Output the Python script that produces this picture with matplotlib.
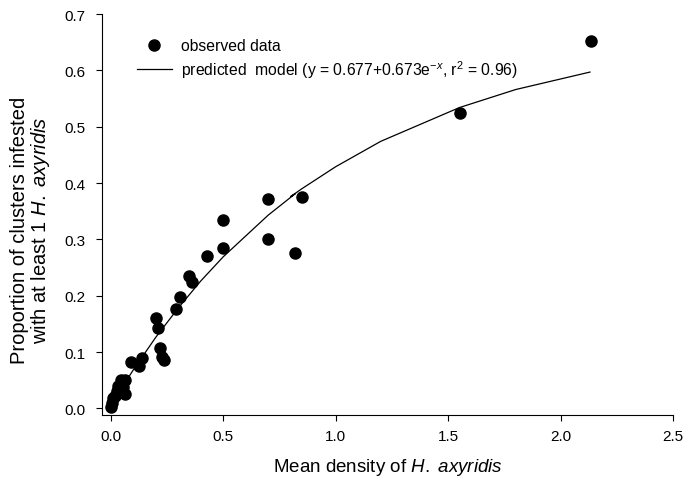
import numpy as np
import matplotlib
matplotlib.use('Agg')
from matplotlib import pyplot as plt

plt.rcParams['font.family'] = ['Liberation Sans', 'DejaVu Sans']
plt.rcParams['mathtext.fontset'] = 'custom'
plt.rcParams['mathtext.rm'] = 'Liberation Sans'
plt.rcParams['mathtext.it'] = 'Liberation Sans:italic'

obs_x = [0.000, 0.004, 0.012, 0.020, 0.027, 0.034, 0.044, 0.064, 0.056, 0.065,
         0.089, 0.127, 0.138, 0.200, 0.209, 0.219, 0.227, 0.238, 0.289, 0.308,
         0.348, 0.360, 0.429, 0.498, 0.498, 0.698, 0.698, 0.819, 0.849, 1.552,
         2.133]
obs_y = [0.003, 0.009, 0.018, 0.022, 0.030, 0.040, 0.050, 0.050, 0.038, 0.025,
         0.083, 0.076, 0.090, 0.161, 0.142, 0.108, 0.092, 0.085, 0.177, 0.198,
         0.235, 0.224, 0.270, 0.334, 0.285, 0.372, 0.301, 0.276, 0.376, 0.525,
         0.652]

# predicted model line vertices
mod_x = [0.0, 0.05, 0.1, 0.2, 0.3, 0.4, 0.5, 0.7, 0.82, 0.80, 0.85, 1.0, 1.2,
         1.55, 1.8, 2.13]
mod_y = [0.004, 0.037, 0.068, 0.126, 0.178, 0.226, 0.269, 0.343, 0.381, 0.376,
         0.390, 0.429, 0.474, 0.534, 0.566, 0.597]

xticks = [0.0, 0.5, 1.0, 1.5, 2.0, 2.5]
yticks = [0.0, 0.1, 0.2, 0.3, 0.4, 0.5, 0.6, 0.7]

fig = plt.figure(figsize=(6.87, 4.85), dpi=100)
ax = fig.add_axes([0.148, 0.142, 0.832, 0.827])

ax.plot(obs_x, obs_y, 'o', color='black', ms=8, label='observed data', zorder=3)
ax.plot(mod_x, mod_y, '-', color='black', lw=0.9,
        label='predicted  model (y = 0.677+0.673e$^{-x}$, r$^{2}$ = 0.96)')

ax.set_xlim(-0.04, 2.5)
ax.set_ylim(-0.012, 0.7)
ax.set_xticks(xticks)
ax.set_yticks(yticks)
ax.set_xticklabels([f'{t:.1f}' for t in xticks])
ax.set_yticklabels([f'{t:.1f}' for t in yticks])
ax.tick_params(direction='out', length=4, width=0.8, labelsize=11)
ax.tick_params(axis='x', pad=6)
ax.tick_params(axis='y', pad=8)

for s in ['top', 'right']:
    ax.spines[s].set_visible(False)
for s in ['left', 'bottom']:
    ax.spines[s].set_linewidth(0.8)

ax.set_xlabel(r'Mean density of $\it{H.}$ $\it{axyridis}$', fontsize=13.5, labelpad=9)
ax.set_ylabel('Proportion of clusters infested\n' r'with at least 1 $\it{H.}$ $\it{axyridis}$',
              fontsize=14.5, linespacing=1.0)
ax.yaxis.set_label_coords(-0.087, 0.464)

ax.legend(loc='upper left', bbox_to_anchor=(0.061, 0.94), frameon=False,
          fontsize=11.3, borderpad=0, borderaxespad=0, handlelength=2.25,
          handletextpad=0.6, labelspacing=0.3, numpoints=1)

fig.savefig('out.png', dpi=100)
